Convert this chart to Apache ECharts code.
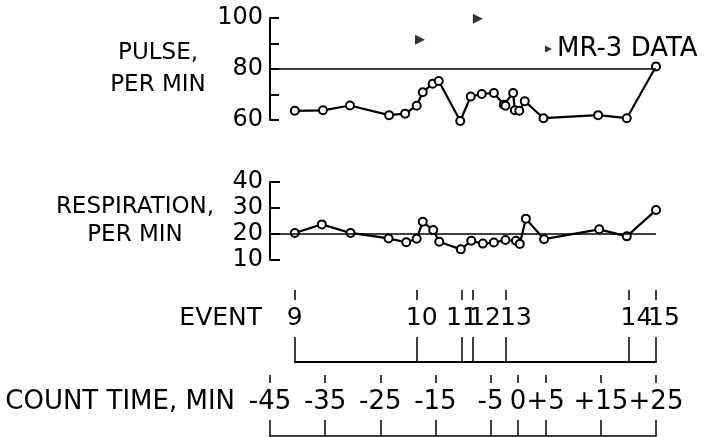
<!DOCTYPE html>
<html>
<head>
<meta charset="utf-8">
<script src="https://cdn.jsdelivr.net/npm/echarts@6/dist/echarts.min.js"></script>
<style>
html, body { margin: 0; padding: 0; background: #fff; }
#chart { width: 710px; height: 437px; }
</style>
</head>
<body>
<div id="chart"></div>
<script>
// count time, min
const countTicks = [-45, -35, -25, -15, -5, 0, 5, 15, 25];
const eventTime = [-40.5, -18.4, -10.2, -8.2, -2.2, 20, 25];
const eventName = ["9", "10", "11", "12", "13", "14", "15"];

const pulseTime = [-40.5, -35.4, -30.5, -23.4, -20.5, -18.4, -17.3, -15.5, -14.4, -10.5, -8.6, -6.6, -4.4, -2.6, -2.3, -0.9, -0.6, 0.2, 1.2, 4.6, 14.5, 19.7, 25];
const pulseRate = [63.6, 63.8, 65.7, 61.9, 62.5, 65.6, 70.9, 74.2, 75.3, 59.6, 69.2, 70.2, 70.6, 66.0, 65.6, 70.6, 63.8, 63.6, 67.4, 60.7, 61.9, 60.7, 81];
const pulseTicks = [60, 80, 100];

const mr3Time = [-17.8, -7.3];
const mr3Pulse = [91.5, 99.7];

const respTime = [-40.5, -35.6, -30.4, -23.5, -20.3, -18.4, -17.3, -15.4, -14.3, -10.4, -8.5, -6.4, -4.4, -2.3, -0.4, 0.3, 1.4, 4.7, 14.7, 19.7, 25];
const respRate = [20.4, 23.7, 20.4, 18.3, 16.8, 18.2, 24.7, 21.5, 17.0, 14.1, 17.4, 16.3, 16.7, 17.7, 17.4, 16.2, 25.9, 18.0, 21.8, 19.1, 29.2];

const black = "#000";
const font = "DejaVu Sans";
const tri = "path://M0,0L10,5L0,10Z";
const plotLeft = 270;
const plotRight = 656;
const pxPerMin = (plotRight - plotLeft) / 70;

// label nudges (left padding) so the "1" strokes sit on their ticks
const nudge = { "10": 10, "12": 24, "13": 20, "14": 16, "15": 16 };
let eventRich = {};
[0, 10, 16, 20, 24].forEach((p) => {
  eventRich["n" + p] = { fontSize: 25, fontFamily: font, color: black, padding: [0, 0, 0, p] };
});
let eventLabel = (v) => {
  let s = eventName[eventTime.indexOf(v)];
  return "{n" + (nudge[s] || 0) + "|" + s + "}";
};

let chart = echarts.init(document.getElementById("chart"));

let band = (top, height, left) => ({
  left: left === undefined ? plotLeft : left,
  right: 710 - plotRight,
  top: top,
  height: height,
  outerBoundsMode: "none",
});
let timeAxis = (grid, extra) =>
  Object.assign(
    {
      type: "value",
      gridIndex: grid,
      position: "bottom",
      min: -45,
      max: 25,
      axisLine: { show: false },
      axisTick: { show: false },
      axisLabel: { show: false },
      splitLine: { show: false },
    },
    extra
  );
let hiddenY = (grid) => ({ type: "value", gridIndex: grid, show: false, min: 0, max: 1 });
let tickLine = { color: black, width: 1.5 };

let option = {
  animation: false,
  backgroundColor: "#fff",
  textStyle: { fontFamily: font, color: black },
  legend: {
    data: [{ name: "MR-3 DATA", icon: tri }],
    left: 540,
    top: 31,
    itemWidth: 7,
    itemHeight: 8,
    selectedMode: false,
    textStyle: { fontSize: 26, color: black, fontFamily: font },
  },
  grid: [
    band(18, 102),
    band(182, 78),
    band(280, 10), // event ticks above labels
    band(300, 62, plotLeft + (eventTime[0] + 45) * pxPerMin), // event bracket
    band(308, 10), // event labels
    band(365, 10), // count ticks above labels
    band(392, 10), // count labels
    band(380, 56), // count ticks below + base line
  ],
  xAxis: [
    timeAxis(0, { show: false }),
    timeAxis(1, { show: false }),
    timeAxis(2, {
      axisTick: { show: true, inside: false, length: 10, customValues: eventTime, lineStyle: tickLine },
    }),
    timeAxis(3, {
      min: eventTime[0],
      axisLine: { show: true, onZero: false, lineStyle: { color: black, width: 2 } },
      axisTick: { show: true, inside: true, length: 25, customValues: eventTime, lineStyle: tickLine },
    }),
    timeAxis(4, {
      name: "EVENT",
      nameLocation: "start",
      nameGap: 8,
      nameMoveOverlap: false,
      nameTextStyle: { fontSize: 25, color: black, fontFamily: font },
      axisLabel: {
        show: true,
        customValues: eventTime.slice(0, -1),
        margin: -12.5,
        showMinLabel: true,
        showMaxLabel: true,
        hideOverlap: false,
        formatter: eventLabel,
        rich: eventRich,
      },
    }),
    // last event label kept on its own so it is not dropped next to "14"
    timeAxis(4, {
      axisLabel: {
        show: true,
        customValues: eventTime.slice(-1),
        margin: -12.5,
        showMinLabel: true,
        showMaxLabel: true,
        hideOverlap: false,
        formatter: eventLabel,
        rich: eventRich,
      },
    }),
    timeAxis(5, {
      axisTick: { show: true, inside: false, length: 8, customValues: countTicks, lineStyle: tickLine },
    }),
    timeAxis(6, {
      name: "COUNT TIME, MIN",
      nameLocation: "start",
      nameGap: 35,
      nameMoveOverlap: false,
      nameTextStyle: { fontSize: 26, color: black, fontFamily: font },
      axisLabel: {
        show: true,
        customValues: countTicks,
        margin: -13,
        showMinLabel: true,
        showMaxLabel: true,
        hideOverlap: false,
        fontSize: 26,
        color: black,
        fontFamily: font,
        formatter: (v) => (v > 0 ? "+" + v : String(v)),
      },
    }),
    timeAxis(7, {
      axisLine: { show: true, onZero: false, lineStyle: { color: black, width: 1.5 } },
      axisTick: { show: true, inside: true, length: 16, customValues: countTicks, lineStyle: tickLine },
    }),
  ],
  yAxis: [
    {
      type: "value",
      gridIndex: 0,
      min: 60,
      max: 100,
      interval: 10,
      name: "PULSE,\nPER MIN",
      nameLocation: "middle",
      nameRotate: 0,
      nameGap: 112,
      nameMoveOverlap: false,
      nameTextStyle: { fontSize: 23, lineHeight: 32, align: "center", color: black, fontFamily: font },
      axisLine: { show: true, onZero: false, lineStyle: { color: black, width: 2 } },
      axisTick: { show: true, inside: true, length: 9, lineStyle: { color: black, width: 2 } },
      axisLabel: {
        margin: 7,
        fontSize: 24,
        color: black,
        fontFamily: font,
        formatter: (v) => (pulseTicks.includes(v) ? String(v) : ""),
      },
      splitLine: { show: false },
    },
    {
      type: "value",
      gridIndex: 1,
      min: 10,
      max: 40,
      interval: 10,
      name: "RESPIRATION,\nPER MIN",
      nameLocation: "middle",
      nameRotate: 0,
      nameGap: 135,
      nameMoveOverlap: false,
      nameTextStyle: { fontSize: 23, lineHeight: 28, align: "center", color: black, fontFamily: font },
      axisLine: { show: true, onZero: false, lineStyle: { color: black, width: 2 } },
      axisTick: { show: true, inside: true, length: 10, lineStyle: { color: black, width: 2 } },
      axisLabel: { margin: 7, fontSize: 24, color: black, fontFamily: font },
      splitLine: { show: false },
    },
    hiddenY(2),
    hiddenY(3),
    hiddenY(4),
    hiddenY(5),
    hiddenY(6),
    hiddenY(7),
  ],
  series: [
    {
      name: "pulse",
      type: "line",
      xAxisIndex: 0,
      yAxisIndex: 0,
      clip: false,
      data: pulseTime.map((t, i) => [t, pulseRate[i]]),
      symbol: "circle",
      symbolSize: 8,
      lineStyle: { color: black, width: 2.2 },
      itemStyle: { color: "#fff", borderColor: black, borderWidth: 2 },
      markLine: {
        silent: true,
        symbol: "none",
        label: { show: false },
        lineStyle: { color: black, width: 1.6, type: "solid" },
        data: [{ yAxis: 80 }],
      },
      z: 3,
    },
    {
      name: "MR-3 DATA",
      type: "scatter",
      xAxisIndex: 0,
      yAxisIndex: 0,
      data: mr3Time.map((t, i) => [t, mr3Pulse[i]]),
      symbol: tri,
      symbolSize: 10,
      itemStyle: { color: black },
      clip: false,
    },
    {
      name: "respiration",
      type: "line",
      xAxisIndex: 1,
      yAxisIndex: 1,
      clip: false,
      data: respTime.map((t, i) => [t, respRate[i]]),
      symbol: "circle",
      symbolSize: 8,
      lineStyle: { color: black, width: 2.2 },
      itemStyle: { color: "#fff", borderColor: black, borderWidth: 2 },
      markLine: {
        silent: true,
        symbol: "none",
        label: { show: false },
        lineStyle: { color: black, width: 1.6, type: "solid" },
        data: [{ yAxis: 20 }],
      },
      z: 3,
    },
  ],
};
chart.setOption(option);
</script>
</body>
</html>
